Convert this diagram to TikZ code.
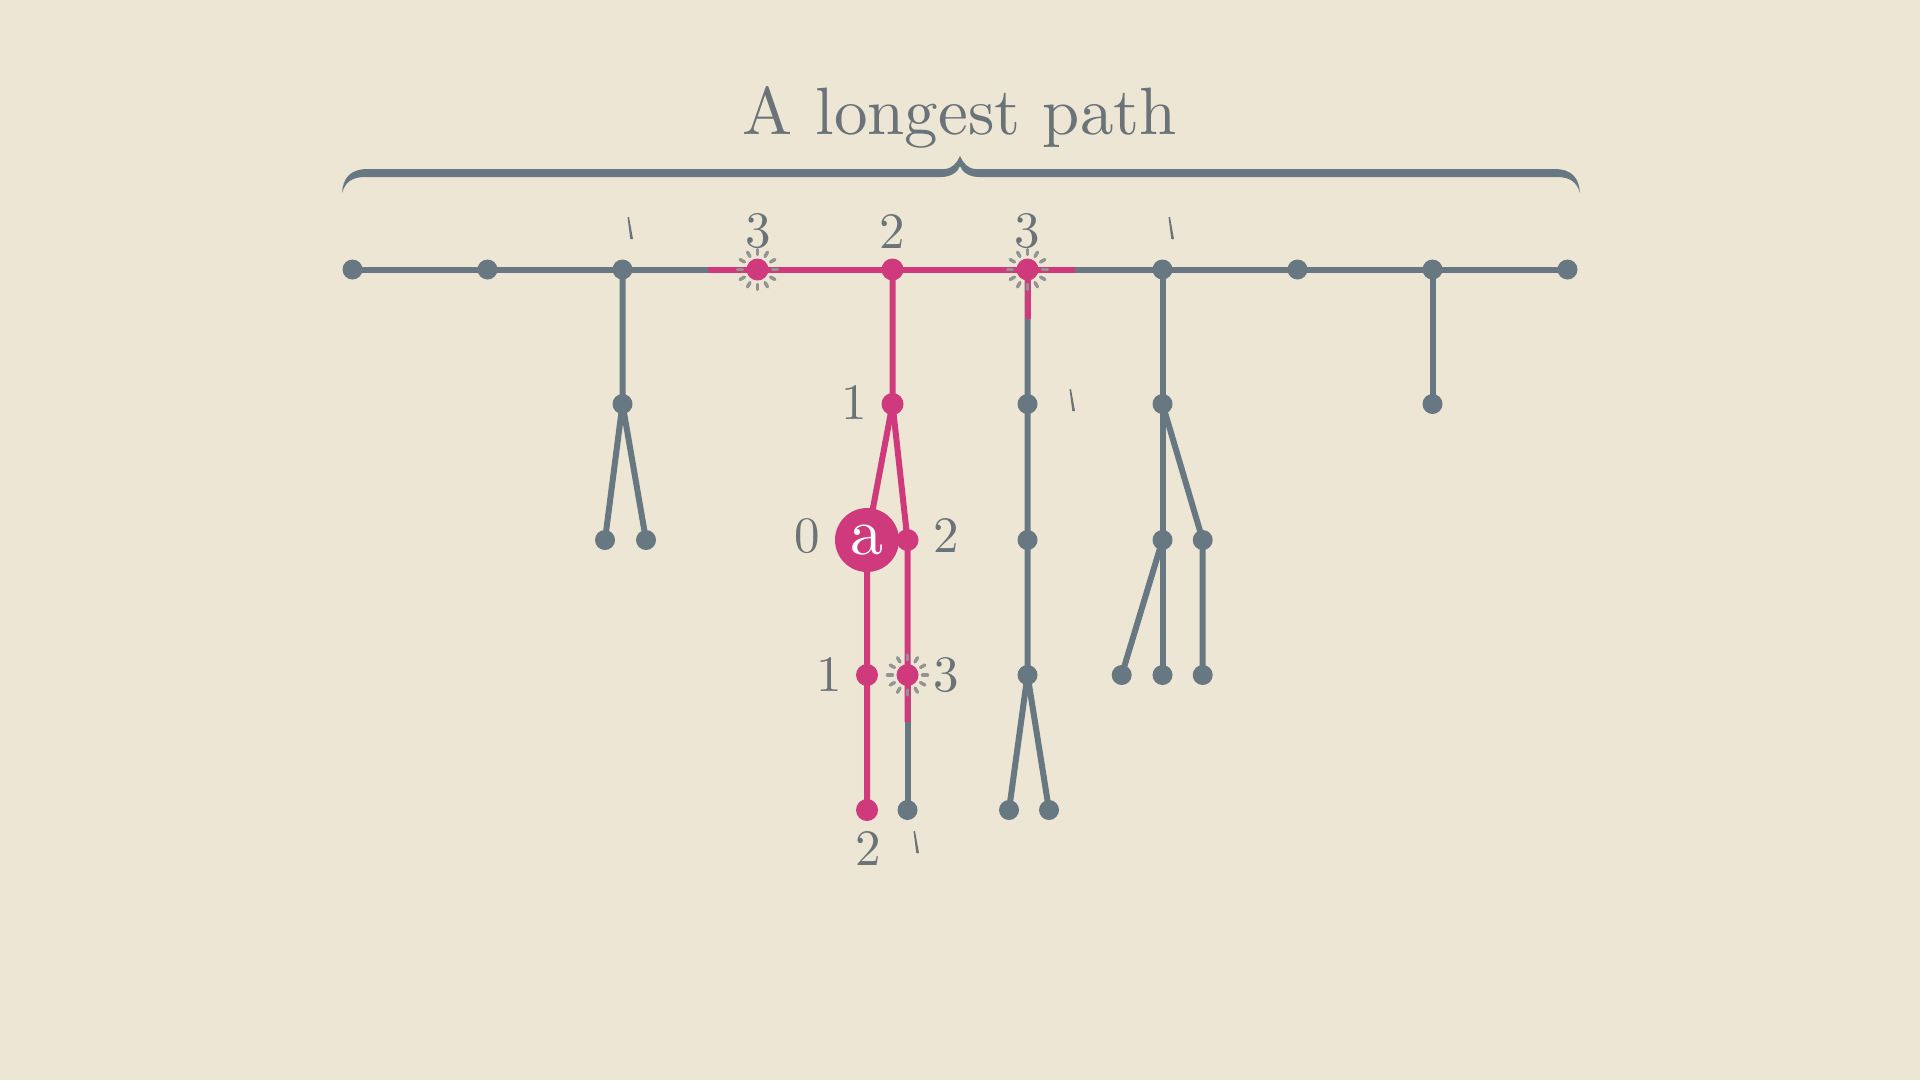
\documentclass[tikz,border=0pt]{standalone}
\usepackage{fontspec}
\setmainfont{lmroman10-regular.otf}
\definecolor{bg}{RGB}{237,230,213}
\definecolor{gline}{RGB}{104,120,130}
\definecolor{pk}{RGB}{207,58,124}
\definecolor{txt}{RGB}{105,115,120}
\definecolor{spk}{RGB}{145,148,146}
\tikzset{
  gdot/.style={circle,fill=gline,minimum size=20pt,inner sep=0pt},
  pdot/.style={circle,fill=pk,minimum size=22pt,inner sep=0pt},
  gedge/.style={draw=gline,line width=6pt},
  pedge/.style={draw=pk,line width=6pt},
  lbl/.style={text=txt,inner sep=0pt,font=\fontsize{51}{51}\selectfont},
  spark/.style={draw=spk,line width=3.4pt,line cap=round},
  tickmark/.pic={\fill[txt] (-2.5,-11) -- (-1.0,-11) -- (3,11) -- (0.3,11) -- cycle;}
}
\begin{document}
\begin{tikzpicture}[x=1pt,y=-1pt]
\fill[bg] (0,0) rectangle (1920,1080);
\useasboundingbox (0,0) rectangle (1920,1080);

% title and brace
\node[text=txt,inner sep=0pt,anchor=base,font=\fontsize{67}{67}\selectfont] (title) at (960,134) {A longest path};
\fill[gline] (342,193) .. controls (343,178) and (350,169) .. (368,169) -- (944,169)
  .. controls (952,169) and (957,163) .. (960,156)
  .. controls (963,163) and (968,169) .. (976,169) -- (1554,169)
  .. controls (1572,169) and (1579,178) .. (1580,193)
  .. controls (1577,183) and (1571,177) .. (1557,177) -- (979,177)
  .. controls (969,177) and (962,172) .. (960,166)
  .. controls (958,172) and (951,177) .. (941,177) -- (365,177)
  .. controls (351,177) and (345,183) .. (342,193) -- cycle;

% coordinates
\foreach \i in {0,...,9}{\coordinate (t\i) at (352.5+135*\i,269.5);}
\coordinate (c2a) at (622.5,404);
\coordinate (c2b) at (605,540);
\coordinate (c2c) at (646,540);
\coordinate (n1) at (892.5,404);
\coordinate (a) at (867,540);
\coordinate (n2) at (907.5,540);
\coordinate (n3) at (867,675);
\coordinate (n4) at (907.5,675);
\coordinate (n5) at (867,810);
\coordinate (n6) at (907.5,810);
\coordinate (m1) at (1027.5,404);
\coordinate (m2) at (1027.5,540);
\coordinate (m3) at (1027.5,675);
\coordinate (m4) at (1009,810);
\coordinate (m5) at (1049,810);
\coordinate (k1) at (1162.5,404);
\coordinate (k2) at (1162.5,540);
\coordinate (k3) at (1202.7,540);
\coordinate (k4) at (1121.7,675);
\coordinate (k5) at (1162.5,675);
\coordinate (k6) at (1202.7,675);
\coordinate (s1) at (1432.5,404);
\coordinate (pL) at (708,269.5);
\coordinate (pR) at (1075,269.5);
\coordinate (pV) at (1027.5,319);
\coordinate (pB) at (907.5,722);

% gray edges
\draw[gedge] (t0) -- (t9);
\draw[gedge] (t2) -- (c2a) -- (c2b);
\draw[gedge] (c2a) -- (c2c);
\draw[gedge] (t5) -- (m1) -- (m2) -- (m3) -- (m4);
\draw[gedge] (m3) -- (m5);
\draw[gedge] (t6) -- (k1) -- (k2) -- (k5);
\draw[gedge] (k1) -- (k3) -- (k6);
\draw[gedge] (k2) -- (k4);
\draw[gedge] (t8) -- (s1);
\draw[gedge] (n4) -- (n6);

% pink edges
\draw[pedge] (pL) -- (pR);
\draw[pedge] (t5) -- (pV);
\draw[pedge] (t4) -- (n1) -- (a) -- (n3) -- (n5);
\draw[pedge] (n1) -- (n2) -- (n4) -- (pB);

% sparkles
\foreach \p in {t3,t5,n4}{
  \foreach \ang in {0,30,...,330}{
    \draw[spark,shift={(\p)}] (\ang:15) -- (\ang:20);
  }
}

% dots
\foreach \p in {t0,t1,t2,t6,t7,t8,t9,c2a,c2b,c2c,m1,m2,m3,m4,m5,k1,k2,k3,k4,k5,k6,s1,n6}{
  \node[gdot] (\p d) at (\p) {};
}
\foreach \p in {t3,t4,t5,n1,n2,n3,n4,n5}{
  \node[pdot] (\p d) at (\p) {};
}
\node[circle,fill=pk,minimum size=64pt,inner sep=0pt,text=white,font=\fontsize{66}{66}\selectfont] (anode) at (a) {a};

% labels
\node[lbl] (l1) at (758,231.5) {3};
\node[lbl] (l2) at (892.5,231.5) {2};
\node[lbl] (l3) at (1027.5,231.5) {3};
\node[lbl] (l4) at (854,402.5) {1};
\node[lbl] (l5) at (807,536) {0};
\node[lbl] (l6) at (946,536) {2};
\node[lbl] (l7) at (829,675) {1};
\node[lbl] (l8) at (946,675) {3};
\node[lbl] (l9) at (868,849) {2};

% partially drawn digits
\pic at (630,228) {tickmark};
\pic at (1171,228) {tickmark};
\pic at (1072,400) {tickmark};
\pic at (916,842) {tickmark};
\end{tikzpicture}
\end{document}
